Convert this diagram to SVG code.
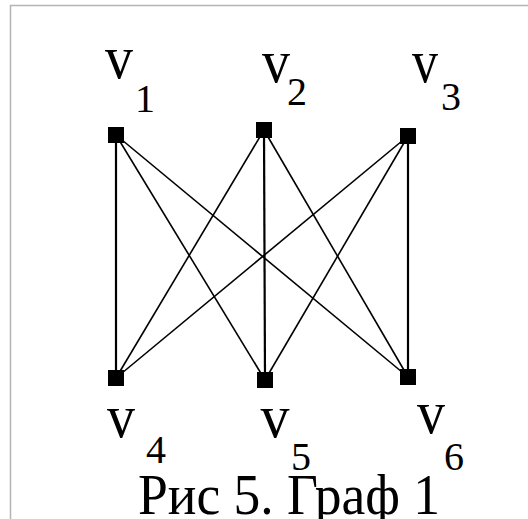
<svg xmlns="http://www.w3.org/2000/svg" width="528" height="519" viewBox="0 0 528 519">
<style>
.edge{stroke:#000;stroke-width:1.6;fill:none}
.vert{stroke:#000;stroke-width:2.2;fill:none}
.node rect{fill:#000}
.lv{font-family:"Liberation Serif",serif;font-size:62px;fill:#000;text-anchor:middle}
.ld{font-family:"Liberation Serif",serif;font-size:40px;fill:#000;text-anchor:middle}
.cap{font-family:"Liberation Serif",serif;font-size:56px;fill:#000;text-anchor:middle}
</style>
<rect width="528" height="519" fill="#fff"/>
<path d="M10.5 519 V5.5 H528" stroke="#b4b4b4" stroke-width="1.5" fill="none"/>
<g id="edges">
<line class="vert" x1="116" y1="135" x2="116" y2="378"/>
<line class="edge" x1="116" y1="135" x2="265" y2="380"/>
<line class="edge" x1="116" y1="135" x2="408" y2="377"/>
<line class="edge" x1="264" y1="130" x2="116" y2="378"/>
<line class="vert" x1="264" y1="130" x2="265" y2="380"/>
<line class="edge" x1="264" y1="130" x2="408" y2="377"/>
<line class="edge" x1="408" y1="136" x2="116" y2="378"/>
<line class="edge" x1="408" y1="136" x2="265" y2="380"/>
<line class="vert" x1="408" y1="136" x2="408" y2="377"/>
</g>
<g id="v1" class="node"><rect x="108" y="127" width="16" height="16"/><text class="lv" x="119" y="78" textLength="28" lengthAdjust="spacingAndGlyphs">v</text><text class="ld" x="145" y="112">1</text></g>
<g id="v2" class="node"><rect x="256" y="122" width="16" height="16"/><text class="lv" x="276" y="82" textLength="28" lengthAdjust="spacingAndGlyphs">v</text><text class="ld" x="297" y="105">2</text></g>
<g id="v3" class="node"><rect x="400" y="128" width="16" height="16"/><text class="lv" x="425" y="82" textLength="26" lengthAdjust="spacingAndGlyphs">v</text><text class="ld" x="451" y="110">3</text></g>
<g id="v4" class="node"><rect x="108" y="370" width="16" height="16"/><text class="lv" x="121" y="437" textLength="28" lengthAdjust="spacingAndGlyphs">v</text><text class="ld" x="156" y="463">4</text></g>
<g id="v5" class="node"><rect x="257" y="372" width="16" height="16"/><text class="lv" x="275" y="437" textLength="29" lengthAdjust="spacingAndGlyphs">v</text><text class="ld" x="301" y="470">5</text></g>
<g id="v6" class="node"><rect x="400" y="369" width="16" height="16"/><text class="lv" x="431" y="433" textLength="28" lengthAdjust="spacingAndGlyphs">v</text><text class="ld" x="454" y="470">6</text></g>
<text class="cap" x="289" y="514" textLength="302" lengthAdjust="spacingAndGlyphs">Рис 5. Граф 1</text>
</svg>
